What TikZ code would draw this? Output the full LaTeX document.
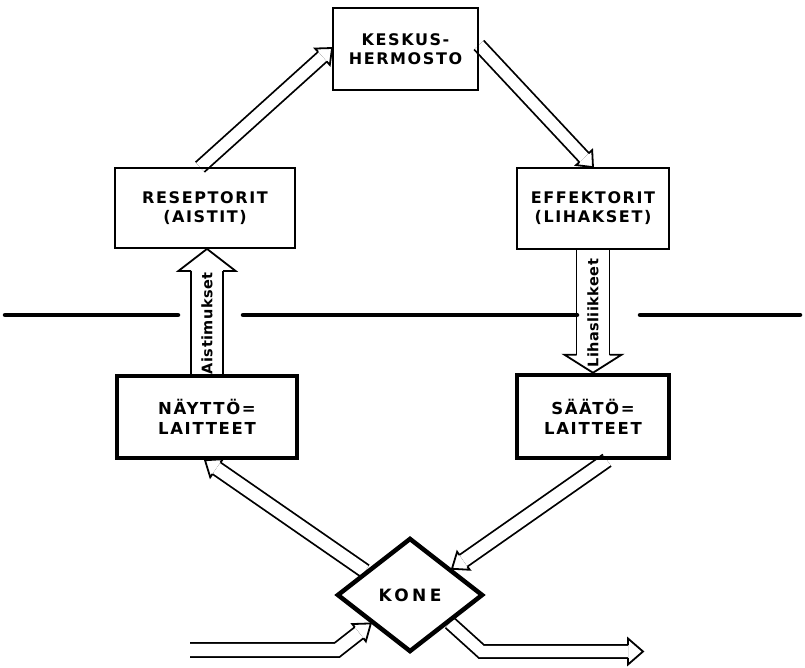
\documentclass[tikz,border=0pt]{standalone}
\usepackage{fontspec}
\usetikzlibrary{calc,shapes.geometric,backgrounds}
\newfontfamily\lettering[LetterSpace=10]{DejaVu Sans}
\newfontfamily\widelettering[LetterSpace=20]{DejaVu Sans}
\newfontfamily\sidelabel[LetterSpace=3]{DejaVu Sans}

\tikzset{
  organ/.style={draw, line width=1.8pt, align=center, inner sep=0pt,
    font=\lettering\bfseries\fontsize{16}{19}\selectfont},
  device/.style={organ, line width=4.5pt,
    font=\lettering\bfseries\fontsize{16.5}{20}\selectfont},
  machine/.style={draw, diamond, line width=4.5pt, inner sep=0pt,
    font=\widelettering\bfseries\fontsize{17}{17}\selectfont},
  shaftline/.style={draw, line width=1.8pt, double=white, double distance=#1},
  headline/.style={draw, line width=1.8pt, line join=miter, miter limit=10},
  divider/.style={line width=4.5pt, line cap=round},
  flowlabel/.style={rotate=90, inner sep=0pt,
    font=\sidelabel\bfseries\fontsize{14.5}{14.5}\selectfont}
}

% Hollow (outline) arrow: #1 shaft path up to its last corner, #2 that corner,
% #3 tip, #4 half width of the shaft, #5 half width of the head, #6 head length
\newcommand{\hollowarrow}[6]{%
  \coordinate (hb) at ($(#3)!#6!(#2)$);
  \pgfmathsetlengthmacro\hadd{2*#4-1.8pt}%
  \draw[shaftline=\hadd] #1 -- (hb);
  \draw[headline] ($(hb)!#4!90:(#3)$) -- ($(hb)!#5!90:(#3)$) -- (#3)
    -- ($(hb)!#5!-90:(#3)$) -- ($(hb)!#4!-90:(#3)$);
}

\begin{document}
\begin{tikzpicture}[x=1pt,y=-1pt]
\useasboundingbox (0,0) rectangle (805,668);

% organs of the operator
\node[organ, minimum width=145pt, minimum height=82pt] (keskus) at (405.5,49) {KESKUS-\\HERMOSTO};
\node[organ, minimum width=180pt, minimum height=80pt] (resep) at (205,208) {RESEPTORIT\\(AISTIT)};
\node[organ, minimum width=152pt, minimum height=81pt] (effek) at (593,208.5) {EFFEKTORIT\\(LIHAKSET)};

% parts of the machine
\node[device, minimum width=180pt, minimum height=82pt] (naytto) at (207,417) {NÄYTTÖ=\\LAITTEET};
\node[device, minimum width=152pt, minimum height=83pt] (saato) at (593,416.5) {SÄÄTÖ=\\LAITTEET};
\node[machine, minimum width=146pt, minimum height=114pt] (kone) at (410,595) {KONE};

% boundary between operator and machine
\draw[divider] (5,315) -- (178,315);
\draw[divider] (243,315) -- (577,315);
\draw[divider] (640,315) -- (800,315);

% connection points
\coordinate (rs) at ($(resep.north)+(-5,0)$);
\coordinate (kw) at ($(keskus.west)+(0,-1)$);
\coordinate (ke) at ($(keskus.east)+(0,-4)$);
\coordinate (en) at (effek.north);
\coordinate (nn) at (naytto.north);
\coordinate (rb) at (naytto.north |- resep.south);
\coordinate (es) at (effek.south);
\coordinate (st) at (effek.south |- saato.north);
\coordinate (kl) at (kone.152);
\coordinate (nb) at ($(naytto.south)+(-2,0)$);
\coordinate (sb) at ($(saato.south)+(14,0)$);
\coordinate (kr) at (kone.32);
\coordinate (in0) at (190,650);
\coordinate (in1) at (337,650);
\coordinate (kin) at (kone.216);
\coordinate (kout) at (kone.325);
\coordinate (out1) at (481.5,651.5);
\coordinate (out2) at (643,651.5);

\begin{pgfonlayer}{background}
  \hollowarrow{(rs)}{rs}{kw}{6.5pt}{11pt}{13pt}
  \hollowarrow{(ke)}{ke}{en}{6.5pt}{11pt}{13pt}
  \hollowarrow{(nn)}{nn}{rb}{16pt}{28.5pt}{22pt}
  \hollowarrow{(es)}{es}{st}{16.5pt}{28.5pt}{18pt}
  \hollowarrow{(kl)}{kl}{nb}{7pt}{11pt}{14pt}
  \hollowarrow{(sb)}{sb}{kr}{7pt}{11pt}{14pt}
  \hollowarrow{(in0) -- (in1)}{in1}{kin}{7pt}{11pt}{15pt}
  \hollowarrow{(kout) -- (out1)}{out1}{out2}{6.5pt}{13pt}{15pt}
\end{pgfonlayer}

% labels inside the vertical arrows
\node[flowlabel] (aist) at ($(nn)!0.5!(rb)+(0,12)$) {Aistimukset};
\node[flowlabel] (lihas) at ($(es)!0.5!(st)+(0,2)$) {Lihasliikkeet};
\end{tikzpicture}
\end{document}
